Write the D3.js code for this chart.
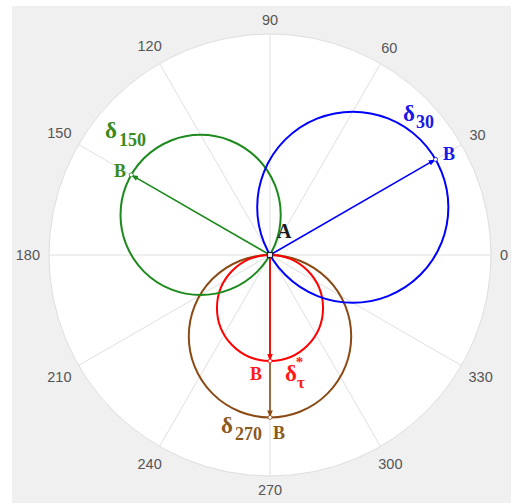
<!DOCTYPE html>
<html>
<head>
<meta charset="utf-8">
<script src="https://cdn.jsdelivr.net/npm/d3@7"></script>
<style>
  html, body { margin: 0; padding: 0; background: #ffffff; }
  svg { display: block; }
</style>
</head>
<body>
<svg id="chart" width="511" height="503"></svg>
<script>
// Angular ticks (degrees, counter-clockwise from east)
const thetaTicks = [0, 30, 60, 90, 120, 150, 180, 210, 240, 270, 300, 330];
const thetaLabels = ["0", "30", "60", "90", "120", "150", "180", "210", "240", "270", "300", "330"];

// Displacement loci: each is a circle through A with diameter AB
const seriesNames = ["δ270", "δτ*", "δ150", "δ30"];
const seriesAngle = [270, 270, 150, 30];         // direction of AB (deg)
const seriesMagnitude = [0.735, 0.48, 0.725, 0.865]; // |AB| on radial axis
const seriesColor = ["#8b4a14", "#ff0000", "#1c8a1c", "#0000ff"];
const radialMax = 1;

const svg = d3.select("#chart");
const W = 511, H = 503;
const cx = 270, cy = 255, R = 221;

// Panel background
svg.append("rect").attr("x", 12).attr("y", 6).attr("width", W - 12).attr("height", H - 6)
  .attr("fill", "#f0f0f0");

const r = d3.scaleLinear().domain([0, radialMax]).range([0, R]);
const toRad = d => d * Math.PI / 180;
const px = (rad, deg) => cx + r(rad) * Math.cos(toRad(deg));
const py = (rad, deg) => cy - r(rad) * Math.sin(toRad(deg));

const g = svg.append("g");

// Polar disc and spokes
g.append("circle").attr("cx", cx).attr("cy", cy).attr("r", r(radialMax))
  .attr("fill", "#ffffff").attr("stroke", "#dedede").attr("stroke-width", 1);
g.selectAll("line.spoke").data(thetaTicks).join("line").attr("class", "spoke")
  .attr("x1", cx).attr("y1", cy)
  .attr("x2", d => px(radialMax, d)).attr("y2", d => py(radialMax, d))
  .attr("stroke", "#e0e0e0").attr("stroke-width", 1);

// Angle labels, offset outward by their half-extent along the ray
const labelFont = 14.5;
const labels = g.selectAll("text.tick").data(thetaTicks).join("text").attr("class", "tick")
  .attr("font-family", "Liberation Sans, Arial, sans-serif")
  .attr("font-size", labelFont).attr("fill", "#555555")
  .attr("text-anchor", "middle").attr("dominant-baseline", "central")
  .text((d, i) => thetaLabels[i]);
labels.each(function (d) {
  const w = this.getComputedTextLength();
  const h = labelFont * 0.75;
  const a = toRad(d);
  const off = Math.abs(Math.cos(a)) * w / 2 + Math.abs(Math.sin(a)) * h / 2 + 9;
  d3.select(this)
    .attr("x", cx + (R + off) * Math.cos(a))
    .attr("y", cy - (R + off) * Math.sin(a));
});

// Arrowhead markers
const defs = svg.append("defs");
seriesColor.forEach((c, i) => {
  defs.append("marker").attr("id", "arr" + i)
    .attr("viewBox", "0 0 10 10").attr("refX", 10).attr("refY", 5)
    .attr("markerWidth", 7).attr("markerHeight", 7).attr("markerUnits", "userSpaceOnUse")
    .attr("orient", "auto")
    .append("path").attr("d", "M0,1 L10,5 L0,9 Z").attr("fill", c);
});

const data = seriesNames.map((name, i) => ({
  name, angle: seriesAngle[i], mag: seriesMagnitude[i], color: seriesColor[i], idx: i
}));

// Loci circles (centre at half of AB, radius |AB|/2)
g.selectAll("circle.locus").data(data).join("circle").attr("class", "locus")
  .attr("cx", d => px(d.mag / 2, d.angle))
  .attr("cy", d => py(d.mag / 2, d.angle))
  .attr("r", d => r(d.mag / 2))
  .attr("fill", "none").attr("stroke", d => d.color).attr("stroke-width", 2);

// Arrows A -> B
g.selectAll("line.ab").data(data).join("line").attr("class", "ab")
  .attr("x1", cx).attr("y1", cy)
  .attr("x2", d => px(d.mag, d.angle)).attr("y2", d => py(d.mag, d.angle))
  .attr("stroke", d => d.color).attr("stroke-width", 1.6)
  .attr("marker-end", d => "url(#arr" + d.idx + ")");

// Point B markers
g.selectAll("circle.b").data(data).join("circle").attr("class", "b")
  .attr("cx", d => px(d.mag, d.angle)).attr("cy", d => py(d.mag, d.angle))
  .attr("r", 2).attr("fill", "#ffffff").attr("stroke", d => d.color).attr("stroke-width", 0.8);

// Point A marker
g.append("rect").attr("x", cx - 2.5).attr("y", cy - 2.5).attr("width", 5).attr("height", 5)
  .attr("fill", "#ffffff").attr("stroke", "#222244").attr("stroke-width", 1.2);

// Annotations
const serif = "Liberation Serif, Times New Roman, serif";
function note(x, y, color, parts) {
  const t = g.append("text").attr("x", x).attr("y", y)
    .attr("font-family", serif).attr("font-weight", "bold").attr("fill", color);
  parts.forEach(p => {
    const s = t.append("tspan").attr("font-size", p.size).text(p.text);
    if (p.dy) s.attr("dy", p.dy);
    if (p.dx) s.attr("dx", p.dx);
  });
  return t;
}

note(277, 238, "#1a1a1a", [{ text: "A", size: 20 }]);

note(403, 121, "#1a1ae6", [{ text: "δ", size: 23 }, { text: "30", size: 18, dy: 7, dx: 1 }]);
note(443, 160, "#1a1ae6", [{ text: "B", size: 18 }]);

note(105, 138, "#3a8a1e", [{ text: "δ", size: 23 }, { text: "150", size: 18, dy: 8, dx: 2 }]);
note(114, 177, "#3a8a1e", [{ text: "B", size: 18 }]);

note(250, 380, "#ff1a1a", [{ text: "B", size: 18 }]);
note(285, 381, "#ff1a1a", [{ text: "δ", size: 23 }, { text: "τ", size: 17, dy: 7 },
  { text: "*", size: 15, dx: -9, dy: -21 }]);

note(221, 433, "#8b5a1e", [{ text: "δ", size: 23 }, { text: "270", size: 18, dy: 7, dx: 2 }]);
note(273, 439, "#8b5a1e", [{ text: "B", size: 18 }]);
</script>
</body>
</html>
